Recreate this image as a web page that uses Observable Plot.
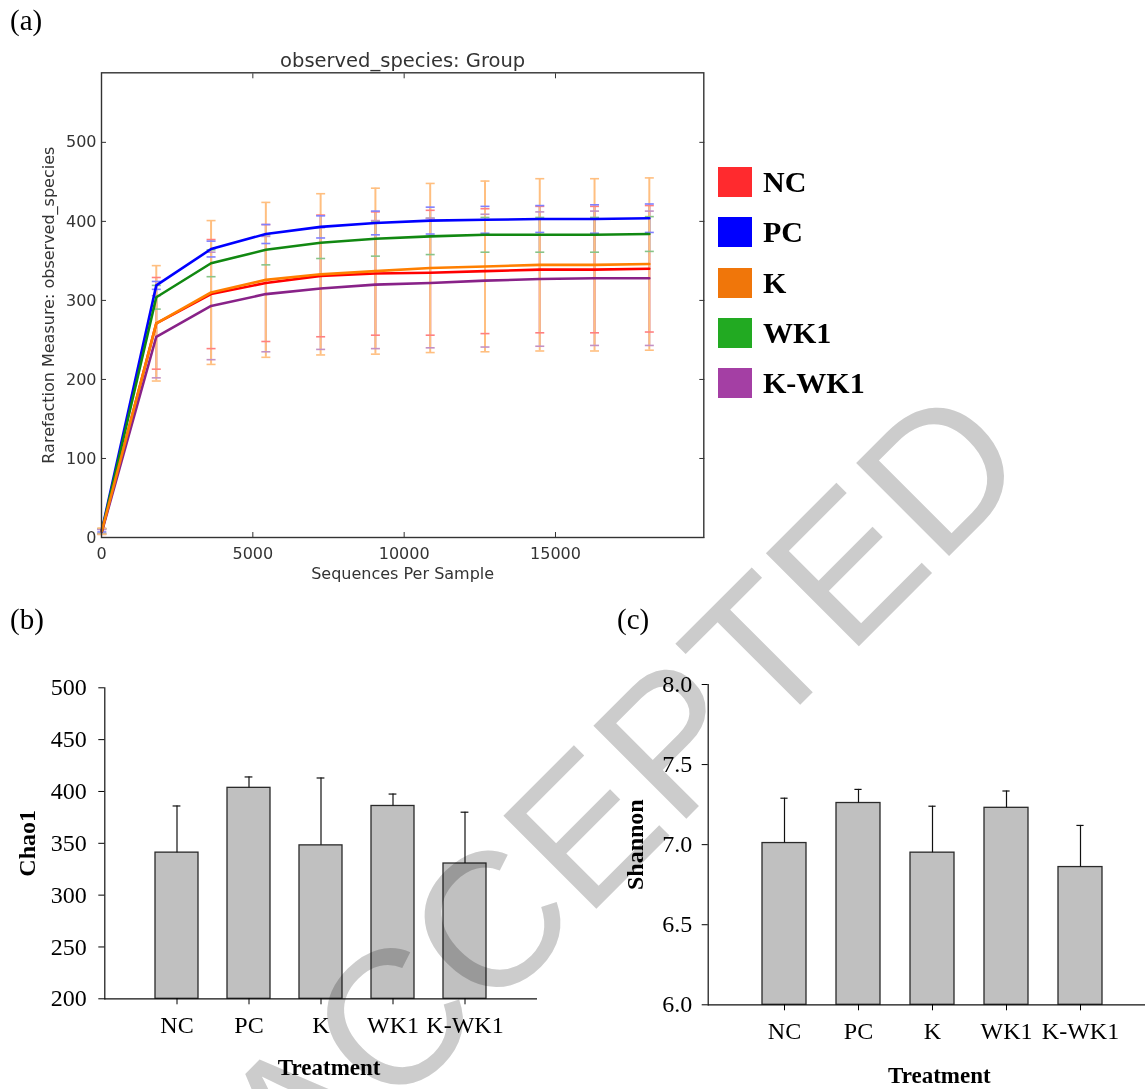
<!DOCTYPE html>
<html>
<head>
<meta charset="utf-8">
<script src="https://cdn.jsdelivr.net/npm/d3@7"></script>
<script src="https://cdn.jsdelivr.net/npm/@observablehq/plot@0.6"></script>
<style>
  html, body { margin: 0; padding: 0; background: #fff; overflow: hidden; }
  #fig { position: relative; width: 1145px; height: 1089px; overflow: hidden; background: #fff; }
  .panel { position: absolute; }
  .tag { position: absolute; font-family: "Liberation Serif", "Times New Roman", serif; font-size: 29px; line-height: 1; color: #000; }
  .leg-row { position: absolute; left: 718px; height: 30px; display: flex; align-items: center;
             font-family: "Liberation Serif", "Times New Roman", serif; font-weight: bold; font-size: 30px; color: #000; }
  .leg-sw { width: 34px; height: 30px; margin-right: 11px; }
  #wm { position: absolute; left: 0; top: 0; mix-blend-mode: multiply; pointer-events: none; }
</style>
</head>
<body>
<div id="fig"></div>
<script>
// ---------------- data ----------------
const groups = ["NC", "PC", "K", "WK1", "K-WK1"];
const seqDepth = [10, 1810, 3620, 5430, 7240, 9050, 10860, 12670, 14480, 16290, 18100];

const ncMean   = [8, 271, 308, 322, 331, 334, 335, 337, 339, 339, 340];
const ncSd     = [3, 58, 69, 74, 77, 78, 79, 79, 80, 80, 80];
const pcMean   = [9, 319, 365, 384, 393, 398, 401, 402, 403, 403, 404];
const pcSd     = [2, 5, 10, 12, 14, 15, 17, 17, 17, 18, 18];
const kMean    = [8, 271, 310, 326, 333, 337, 341, 343, 345, 345, 346];
const kSd      = [4, 73, 91, 98, 102, 105, 107, 108, 109, 109, 109];
const wk1Mean  = [8, 304, 347, 364, 373, 378, 381, 383, 383, 383, 384];
const wk1Sd    = [3, 15, 17, 19, 20, 22, 23, 22, 22, 22, 22];
const kwk1Mean = [7, 254, 293, 308, 315, 320, 322, 325, 327, 328, 328];
const kwk1Sd   = [3, 52, 68, 73, 77, 81, 82, 84, 85, 85, 85];

const chao1   = [341, 403.5, 348, 386, 330.5];
const chao1Sd = [45, 10.5, 65, 11.5, 49.5];
const shannon   = [7.01, 7.26, 6.95, 7.23, 6.86];
const shannonSd = [0.28, 0.085, 0.29, 0.105, 0.26];

const yTicksA = [0, 100, 200, 300, 400, 500];
const xTicksA = [0, 5000, 10000, 15000];
const chaoTicks = [200, 250, 300, 350, 400, 450, 500];
const shannonTicks = [6.0, 6.5, 7.0, 7.5, 8.0];

const lineColors   = ["#ff0000", "#0000ff", "#ff7f00", "#118811", "#882288"];
const legendColors = ["#ff2a2e", "#0000ff", "#f0760a", "#22aa22", "#a43fa4"];

// ---------------- build ----------------
const fig = document.getElementById("fig");
const means = [ncMean, pcMean, kMean, wk1Mean, kwk1Mean];
const sds = [ncSd, pcSd, kSd, wk1Sd, kwk1Sd];
const rows = [];
groups.forEach((g, gi) => seqDepth.forEach((x, i) => rows.push({group: g, depth: x, mean: means[gi][i], sd: sds[gi][i]})));
const drawOrder = ["NC", "PC", "WK1", "K-WK1", "K"];
const colorOf = Object.fromEntries(groups.map((g, i) => [g, lineColors[i]]));
const lightOf = Object.fromEntries(groups.map((g, i) => [g, d3.interpolateRgb(lineColors[i], "#ffffff")(0.5)]));
const hline = { draw(context, size) { const r = Math.sqrt(size / Math.PI); context.moveTo(-r, 0); context.lineTo(r, 0); } };

function place(el, left, top) {
  el.classList.add("panel");
  el.style.left = left + "px";
  el.style.top = top + "px";
  fig.appendChild(el);
}

// Panel (a)
const stemMarks = drawOrder.map(g => Plot.ruleX(rows.filter(d => d.group === g), {
  x: "depth", y1: d => d.mean - d.sd, y2: d => d.mean + d.sd, stroke: lightOf[g], strokeWidth: 2
}));
const capMarks = drawOrder.flatMap(g => {
  const r = rows.filter(d => d.group === g);
  return [
    Plot.dot(r, {x: "depth", y: d => d.mean - d.sd, symbol: hline, r: 4.5, fill: "none", stroke: lightOf[g], strokeWidth: 1.6}),
    Plot.dot(r, {x: "depth", y: d => d.mean + d.sd, symbol: hline, r: 4.5, fill: "none", stroke: lightOf[g], strokeWidth: 1.6})
  ];
});
const lineMarks = drawOrder.map(g => Plot.line(rows.filter(d => d.group === g), {
  x: "depth", y: "mean", stroke: colorOf[g], strokeWidth: 2.6
}));

const plotA = Plot.plot({
  width: 720, height: 600,
  marginLeft: 101, marginRight: 16.7, marginTop: 72.3, marginBottom: 63,
  style: {fontFamily: "'DejaVu Sans', sans-serif", fontSize: "16px", color: "#333", background: "transparent"},
  x: {domain: [0, 19900]},
  y: {domain: [0, 588]},
  marks: [
    ...stemMarks, ...capMarks, ...lineMarks,
    Plot.frame({stroke: "#333", strokeWidth: 1.4}),
    Plot.axisY({anchor: "left", ticks: yTicksA, tickSize: -5, tickPadding: 10, tickFormat: d3.format("d"), label: null, stroke: "#333"}),
    Plot.axisY({anchor: "right", ticks: yTicksA, tickSize: -5, tickFormat: () => "", label: null, stroke: "#333"}),
    Plot.axisX({anchor: "bottom", ticks: xTicksA, tickSize: -5, tickPadding: 15, tickFormat: d3.format("d"), label: null, stroke: "#333"}),
    Plot.axisX({anchor: "top", ticks: xTicksA, tickSize: -5, tickFormat: () => "", label: null, stroke: "#333"}),
    Plot.text(["observed_species: Group"], {text: d => d, frameAnchor: "top", lineAnchor: "middle", textAnchor: "middle", dy: -12, fontSize: 19.5, fill: "#333"}),
    Plot.text(["Sequences Per Sample"], {text: d => d, frameAnchor: "bottom", lineAnchor: "middle", textAnchor: "middle", dy: 36, fontSize: 16, fill: "#333"}),
    Plot.text(["Rarefaction Measure: observed_species"], {text: d => d, frameAnchor: "left", lineAnchor: "middle", textAnchor: "middle", dx: -53, rotate: -90, fontSize: 16, fill: "#333"})
  ]
});
place(plotA, 0, 0);

// Legend
groups.forEach((g, i) => {
  const row = document.createElement("div");
  row.className = "leg-row";
  row.style.top = (167 + i * 50.25) + "px";
  const sw = document.createElement("div");
  sw.className = "leg-sw";
  sw.style.background = legendColors[i];
  const t = document.createElement("span");
  t.textContent = g;
  row.appendChild(sw); row.appendChild(t);
  fig.appendChild(row);
});

// Bar panels
function barPanel({values, errs, yDomain, yTicks, yFormat, yLabel, marginLeft, marginTop, marginBottom, marginRight, width, tPad, labelDx, treatDy, treatDx, capInset}) {
  const data = groups.map((g, i) => ({group: g, value: values[i], sd: errs[i]}));
  return Plot.plot({
    width, height: 429,
    marginLeft, marginRight, marginTop, marginBottom,
    style: {fontFamily: "'Liberation Serif', 'Times New Roman', serif", fontSize: "24px", color: "#000", background: "transparent"},
    x: {type: "band", domain: groups, paddingInner: 0.4, paddingOuter: 0.7},
    y: {domain: yDomain},
    marks: [
      Plot.barY(data, {x: "group", y1: yDomain[0], y2: "value", fill: "#c0c0c0", stroke: "#2a2a2a", strokeWidth: 1.3}),
      Plot.ruleX(data, {x: "group", y1: "value", y2: d => d.value + d.sd, stroke: "#111", strokeWidth: 1.2}),
      Plot.tickY(data, {x: "group", y: d => d.value + d.sd, insetLeft: capInset, insetRight: capInset, stroke: "#111", strokeWidth: 1.2}),
      Plot.ruleY([yDomain[0]], {stroke: "#111", strokeWidth: 1.2}),
      Plot.frame({anchor: "left", stroke: "#111", strokeWidth: 1.2}),
      Plot.axisY({ticks: yTicks, tickSize: 6, tickPadding: tPad, tickFormat: yFormat, label: null}),
      Plot.axisX({tickSize: 6, tickPadding: 11, label: null}),
      Plot.text(["Treatment"], {text: d => d, frameAnchor: "bottom", lineAnchor: "middle", textAnchor: "middle", dy: treatDy, dx: treatDx, fontWeight: "bold", fontSize: 23}),
      Plot.text([yLabel], {text: d => d, frameAnchor: "left", lineAnchor: "middle", textAnchor: "middle", dx: labelDx, rotate: -90, fontWeight: "bold", fontSize: 24})
    ]
  });
}

const plotB = barPanel({
  values: chao1, errs: chao1Sd, yDomain: [200, 500], yTicks: chaoTicks, yFormat: d3.format("d"), yLabel: "Chao1",
  width: 560, marginLeft: 104.3, marginRight: 23, marginTop: 27.3, marginBottom: 90.7,
  tPad: 12, labelDx: -77.5, treatDy: 68.4, treatDx: 8, capInset: 17.6
});
place(plotB, 0, 660);

const plotC = barPanel({
  values: shannon, errs: shannonSd, yDomain: [6, 8], yTicks: shannonTicks, yFormat: d3.format(".1f"), yLabel: "Shannon",
  width: 560, marginLeft: 107.7, marginRight: 4, marginTop: 24, marginBottom: 84.7,
  tPad: 10, labelDx: -72.9, treatDy: 70.7, treatDx: 7, capInset: 18.4
});
place(plotC, 600, 660);

// Panel tags
[["(a)", 10, 6], ["(b)", 10, 605], ["(c)", 617, 605]].forEach(([s, l, t]) => {
  const d = document.createElement("div");
  d.className = "tag"; d.textContent = s;
  d.style.left = l + "px"; d.style.top = t + "px";
  fig.appendChild(d);
});

// Watermark
const ns = "http://www.w3.org/2000/svg";
const wm = document.createElementNS(ns, "svg");
wm.setAttribute("id", "wm");
wm.setAttribute("width", 1145); wm.setAttribute("height", 1089);
const wt = document.createElementNS(ns, "text");
wt.setAttribute("x", 300); wt.setAttribute("y", 1205);
wt.setAttribute("transform", "rotate(-45 300 1205)");
wt.setAttribute("font-family", "'Liberation Sans', Arial, sans-serif");
wt.setAttribute("font-size", 191);
wt.setAttribute("fill", "#cccccc");
wt.textContent = "ACCEPTED";
wm.appendChild(wt);
fig.appendChild(wm);
</script>
</body>
</html>
